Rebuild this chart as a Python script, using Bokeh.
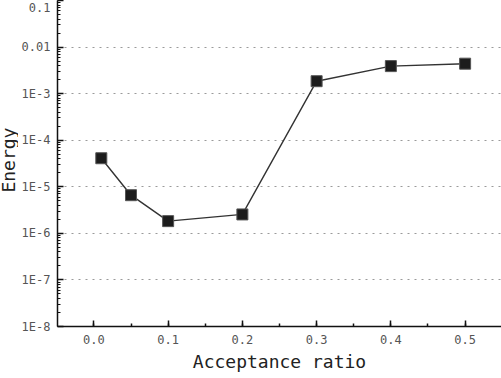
import numpy as np
from bokeh.plotting import figure
from bokeh.layouts import row
from bokeh.models import (Range1d, SingleIntervalTicker, LogTicker, CustomJSTickFormatter,
                          PrintfTickFormatter, Label)
from bokeh.embed import file_html
from bokeh.resources import INLINE

# data
acceptance_ratio = [0.01, 0.05, 0.1, 0.2, 0.3, 0.4, 0.5]
energy = [4.1e-5, 6.6e-6, 1.83e-6, 2.55e-6, 1.85e-3, 3.9e-3, 4.4e-3]
x_title = "Acceptance ratio"
y_title = "Energy"

FONT = "DejaVu Sans Mono"
LEFT_W = 18

# narrow strip that carries the y-axis title
lf = figure(width=LEFT_W, height=378, output_backend="svg", toolbar_location=None,
            x_range=Range1d(0, LEFT_W), y_range=Range1d(0, 378),
            min_border_left=0, min_border_right=0, min_border_top=0, min_border_bottom=0)
lf.axis.visible = False
lf.grid.visible = False
lf.outline_line_color = None
lf.add_layout(Label(x=7.5, y=193, text=y_title, angle=np.pi / 2,
                    text_align="center", text_baseline="middle",
                    text_font=FONT, text_font_size="18px", text_color="#222222"))

p = figure(width=501 - LEFT_W, height=378, output_backend="svg", toolbar_location=None,
           y_axis_type="log",
           x_range=Range1d(-0.049, 0.549), y_range=Range1d(1e-8, 0.1),
           min_border_left=57 - LEFT_W, min_border_right=0, min_border_top=0,
           min_border_bottom=52)
p.outline_line_color = None
p.background_fill_color = "white"
p.border_fill_color = "white"

# grid
p.xgrid.grid_line_color = None
p.ygrid.grid_line_color = "#9a9a9a"
p.ygrid.grid_line_dash = "2 5"
p.ygrid.grid_line_width = 1.2

# x axis
xa = p.xaxis[0]
xa.ticker = SingleIntervalTicker(interval=0.1, num_minor_ticks=2)
xa.formatter = PrintfTickFormatter(format="%.1f")
xa.axis_label = x_title
xa.axis_label_text_font = FONT
xa.axis_label_text_font_size = "18px"
xa.axis_label_text_font_style = "normal"
xa.axis_label_text_color = "#222222"
xa.axis_label_standoff = 4
xa.major_label_text_font = FONT
xa.major_label_text_font_size = "12px"
xa.major_label_text_color = "#555555"
xa.major_label_standoff = 8
xa.major_tick_in = 6
xa.major_tick_out = 0
xa.minor_tick_in = 3
xa.minor_tick_out = 0
xa.axis_line_width = 1.5
xa.axis_line_color = "#111111"
xa.major_tick_line_color = "#111111"
xa.major_tick_line_width = 1.5
xa.minor_tick_line_color = "#111111"
xa.minor_tick_line_width = 1.5

# y axis
ya = p.yaxis[0]
ya.ticker = LogTicker(num_minor_ticks=10)
ya.formatter = CustomJSTickFormatter(code="""
const e = Math.round(Math.log10(tick));
if (e >= -2) { return tick.toFixed(-e); }
return '1E' + e;
""")
ya.major_label_text_font = FONT
ya.major_label_text_font_size = "12px"
ya.major_label_text_color = "#555555"
ya.major_label_standoff = 7
ya.major_tick_in = 6
ya.major_tick_out = 0
ya.minor_tick_in = 3
ya.minor_tick_out = 0
ya.axis_line_width = 1.5
ya.axis_line_color = "#111111"
ya.major_tick_line_color = "#111111"
ya.major_tick_line_width = 1.5
ya.minor_tick_line_color = "#111111"
ya.minor_tick_line_width = 1.2

# data
p.line(acceptance_ratio, energy, line_color="#333333", line_width=1.4)
p.scatter(acceptance_ratio, energy, marker="square", size=11,
          fill_color="#1c1c1c", line_color="#555555", line_width=1)

layout = row(lf, p, spacing=0)
open("out.html", "w").write(file_html(layout, INLINE))
